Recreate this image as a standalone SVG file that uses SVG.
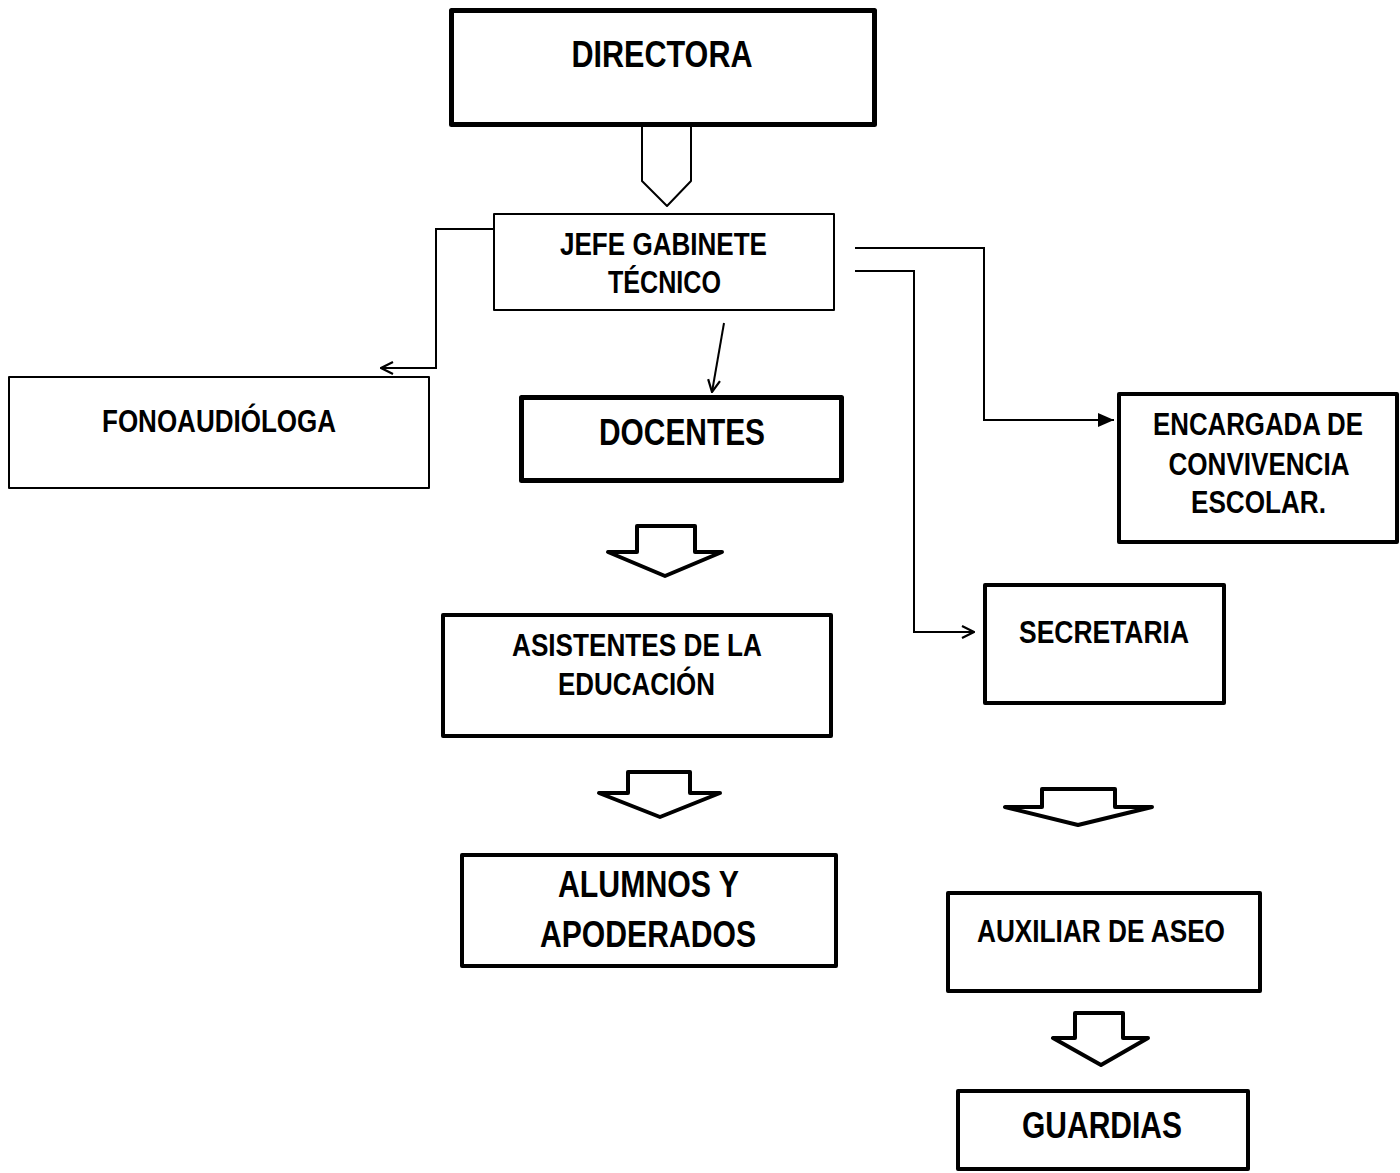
<svg xmlns="http://www.w3.org/2000/svg" width="1400" height="1173" viewBox="0 0 1400 1173">
<style>
.box{fill:#fff;stroke:#000;stroke-linejoin:round}
.thick{stroke-width:5}
.med{stroke-width:4}
.thin{stroke-width:2}
.t{font-family:"Liberation Sans Narrow","Arial Narrow","Liberation Sans",Arial,sans-serif;font-weight:bold;fill:#000;text-anchor:middle}
.s31{font-size:31px}
.s36{font-size:36px}
.conn{fill:none;stroke:#000;stroke-width:2}
.blk{fill:#fff;stroke:#000;stroke-width:4;stroke-linejoin:round}
</style>
<defs>
<marker id="open" viewBox="0 0 14 14" refX="13" refY="7" markerWidth="14" markerHeight="14" markerUnits="userSpaceOnUse" orient="auto">
<path d="M1,1 L13,7 L1,13" fill="none" stroke="#000" stroke-width="2.2"/>
</marker>
<marker id="filled" viewBox="0 0 16 16" refX="16" refY="8" markerWidth="16" markerHeight="16" markerUnits="userSpaceOnUse" orient="auto">
<path d="M0,1 L16,8 L0,15 Z" fill="#000"/>
</marker>
</defs>
<rect width="1400" height="1173" fill="#fff"/>

<g id="connectors">
<path class="blk" style="stroke-width:2" d="M642,126 L691,126 L691,181 L667,206 L642,181 Z"/>
<path class="conn" d="M493,229 L436,229 L436,368 L381,368" marker-end="url(#open)"/>
<path class="conn" d="M724,323 L712,392" marker-end="url(#open)"/>
<path class="conn" d="M855,248 L984,248 L984,420 L1114,420" marker-end="url(#filled)"/>
<path class="conn" d="M855,271 L914,271 L914,632 L974,632" marker-end="url(#open)"/>
<path class="blk" d="M637,526 L695,526 L695,552 L722,552 L665,576 L608,552 L637,552 Z"/>
<path class="blk" d="M628,772 L690,772 L690,793 L720,793 L660,817 L599,793 L628,793 Z"/>
<path class="blk" d="M1042,789 L1115,789 L1115,807 L1152,807 L1078,825 L1005,807 L1042,807 Z"/>
<path class="blk" d="M1075,1013 L1123,1013 L1123,1038 L1148,1038 L1101,1065 L1053,1038 L1075,1038 Z"/>
</g>

<g id="directora">
<rect class="box thick" x="451.5" y="10.5" width="423" height="114"/>
<text class="t s36" x="662" y="67" textLength="181" lengthAdjust="spacingAndGlyphs">DIRECTORA</text>
</g>

<g id="jefe">
<rect class="box thin" x="494" y="214" width="340" height="96"/>
<text class="t s31" x="663.5" y="255" textLength="207" lengthAdjust="spacingAndGlyphs">JEFE GABINETE</text>
<text class="t s31" x="664.5" y="293" textLength="113" lengthAdjust="spacingAndGlyphs">TÉCNICO</text>
</g>

<g id="fonoaudiologa">
<rect class="box thin" x="9" y="377" width="420" height="111"/>
<text class="t s31" x="219" y="432" textLength="234" lengthAdjust="spacingAndGlyphs">FONOAUDIÓLOGA</text>
</g>

<g id="docentes">
<rect class="box thick" x="521.5" y="397.5" width="320" height="83"/>
<text class="t s36" x="682" y="445" textLength="166" lengthAdjust="spacingAndGlyphs">DOCENTES</text>
</g>

<g id="encargada">
<rect class="box med" x="1119" y="394" width="278" height="148"/>
<text class="t s31" x="1258" y="435" textLength="210" lengthAdjust="spacingAndGlyphs">ENCARGADA DE</text>
<text class="t s31" x="1259" y="475" textLength="181" lengthAdjust="spacingAndGlyphs">CONVIVENCIA</text>
<text class="t s31" x="1258.5" y="513" textLength="135" lengthAdjust="spacingAndGlyphs">ESCOLAR.</text>
</g>

<g id="secretaria">
<rect class="box med" x="985" y="585" width="239" height="118"/>
<text class="t s31" x="1104" y="643" textLength="170" lengthAdjust="spacingAndGlyphs">SECRETARIA</text>
</g>

<g id="asistentes">
<rect class="box med" x="443" y="615" width="388" height="121"/>
<text class="t s31" x="637" y="656" textLength="250" lengthAdjust="spacingAndGlyphs">ASISTENTES DE LA</text>
<text class="t s31" x="636.5" y="695" textLength="157" lengthAdjust="spacingAndGlyphs">EDUCACIÓN</text>
</g>

<g id="alumnos">
<rect class="box med" x="462" y="855" width="374" height="111"/>
<text class="t s36" x="648.5" y="897" textLength="181" lengthAdjust="spacingAndGlyphs">ALUMNOS Y</text>
<text class="t s36" x="648" y="947" textLength="216" lengthAdjust="spacingAndGlyphs">APODERADOS</text>
</g>

<g id="auxiliar">
<rect class="box med" x="948" y="893" width="312" height="98"/>
<text class="t s31" x="1101" y="942" textLength="248" lengthAdjust="spacingAndGlyphs">AUXILIAR DE ASEO</text>
</g>

<g id="guardias">
<rect class="box med" x="958" y="1091" width="290" height="78"/>
<text class="t s36" x="1102" y="1138" textLength="160" lengthAdjust="spacingAndGlyphs">GUARDIAS</text>
</g>
</svg>
